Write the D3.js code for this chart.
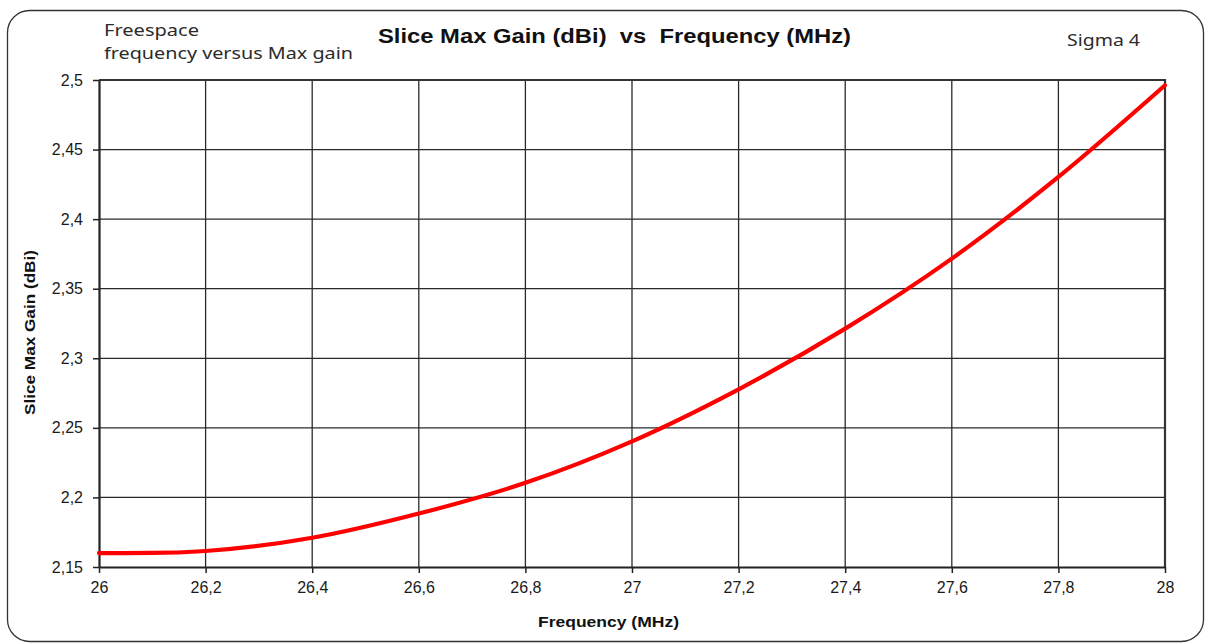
<!DOCTYPE html>
<html>
<head>
<meta charset="utf-8">
<script src="https://cdn.jsdelivr.net/npm/d3@7"></script>
<style>
  html, body { margin: 0; padding: 0; background: #fff; }
  svg { display: block; }
</style>
</head>
<body>
<svg id="chart" width="1208" height="644"></svg>
<script>
// Slice max gain versus frequency, free-space model
const frequency = [26.0, 26.1, 26.2, 26.4, 26.6, 26.8, 27.0, 27.2, 27.4, 27.6, 27.8, 28.0];
const gain      = [2.160, 2.1601, 2.1615, 2.171, 2.1884, 2.2105, 2.2403, 2.2777, 2.3213, 2.3716, 2.4303, 2.4962];

const xTicks = [26, 26.2, 26.4, 26.6, 26.8, 27, 27.2, 27.4, 27.6, 27.8, 28];
const yTicks = [2.15, 2.2, 2.25, 2.3, 2.35, 2.4, 2.45, 2.5];

const titleText = "Slice Max Gain (dBi)  vs  Frequency (MHz)";
const noteLines = ["Freespace", "frequency versus Max gain"];
const cornerNote = "Sigma 4";
const xTitle = "Frequency (MHz)";
const yTitle = "Slice Max Gain (dBi)";

const svg = d3.select("#chart");
const plot = { left: 99, right: 1165, top: 80, bottom: 567 };

const x = d3.scaleLinear().domain([26, 28]).range([plot.left, plot.right]);
const y = d3.scaleLinear().domain([2.15, 2.5]).range([plot.bottom, plot.top]);
const fmt = d => String(d).replace(".", ",");

// outer rounded frame
svg.append("rect")
  .attr("x", 7.5).attr("y", 10.5).attr("width", 1196).attr("height", 631)
  .attr("rx", 22).attr("ry", 22)
  .attr("fill", "#fff").attr("stroke", "#333").attr("stroke-width", 1.3);

// grid lines
const grid = svg.append("g").attr("stroke", "#2a2a2a").attr("stroke-width", 1.3);
grid.selectAll(".vg").data(xTicks.slice(1)).join("line")
  .attr("x1", d => x(d)).attr("x2", d => x(d))
  .attr("y1", plot.top).attr("y2", plot.bottom);
grid.selectAll(".hg").data(yTicks.slice(1)).join("line")
  .attr("x1", plot.left).attr("x2", plot.right)
  .attr("y1", d => y(d)).attr("y2", d => y(d));

// plot border (top and right)
svg.append("path")
  .attr("d", `M${plot.left},${plot.top}H${plot.right}V${plot.bottom}`)
  .attr("fill", "none").attr("stroke", "#333").attr("stroke-width", 2.2);

// axes
const tickFont = "'Liberation Sans', Arial, sans-serif";
const xAxis = svg.append("g")
  .attr("transform", `translate(0,${plot.bottom})`)
  .call(d3.axisBottom(x).tickValues(xTicks).tickFormat(fmt).tickSize(6).tickPadding(9).tickSizeOuter(0));
const yAxis = svg.append("g")
  .attr("transform", `translate(${plot.left},0)`)
  .call(d3.axisLeft(y).tickValues(yTicks).tickFormat(fmt).tickSize(6).tickPadding(10).tickSizeOuter(0));

[xAxis, yAxis].forEach(a => {
  a.select(".domain").attr("stroke", "#222").attr("stroke-width", 2.2);
  a.selectAll(".tick line").attr("stroke", "#222").attr("stroke-width", 1.5);
  a.selectAll(".tick text")
    .attr("fill", "#1a1a1a")
    .style("font-family", tickFont)
    .style("font-size", "16px");
});

// curve
const line = d3.line()
  .x((d, i) => x(frequency[i]))
  .y(d => y(d))
  .curve(d3.curveMonotoneX);
svg.append("path")
  .datum(gain)
  .attr("d", line)
  .attr("fill", "none")
  .attr("stroke", "#ff0000")
  .attr("stroke-width", 4.2)
  .attr("stroke-linecap", "round");

// titles
svg.append("text")
  .attr("x", 378).attr("y", 43)
  .attr("textLength", 473).attr("lengthAdjust", "spacingAndGlyphs")
  .style("white-space", "pre")
  .style("font-family", tickFont).style("font-weight", "bold").style("font-size", "20px")
  .attr("fill", "#111")
  .text(titleText);

svg.append("text")
  .attr("x", 538).attr("y", 627)
  .attr("textLength", 141).attr("lengthAdjust", "spacingAndGlyphs")
  .style("font-family", tickFont).style("font-weight", "bold").style("font-size", "15px")
  .attr("fill", "#111")
  .text(xTitle);

svg.append("text")
  .attr("transform", "translate(35,415) rotate(-90)")
  .attr("textLength", 165).attr("lengthAdjust", "spacingAndGlyphs")
  .style("font-family", tickFont).style("font-weight", "bold").style("font-size", "15px")
  .attr("fill", "#111")
  .text(yTitle);

const noteFont = "'Noto Sans', 'Open Sans', sans-serif";
const noteWidths = [95, 249];
svg.selectAll(".note").data(noteLines).join("text")
  .attr("x", 104).attr("y", (d, i) => 36 + i * 23)
  .attr("textLength", (d, i) => noteWidths[i]).attr("lengthAdjust", "spacingAndGlyphs")
  .style("font-family", noteFont).style("font-size", "16px")
  .attr("fill", "#2b2b2b")
  .text(d => d);

svg.append("text")
  .attr("x", 1067).attr("y", 46)
  .attr("textLength", 73).attr("lengthAdjust", "spacingAndGlyphs")
  .style("font-family", noteFont).style("font-size", "17px")
  .attr("fill", "#2b2b2b")
  .text(cornerNote);
</script>
</body>
</html>
